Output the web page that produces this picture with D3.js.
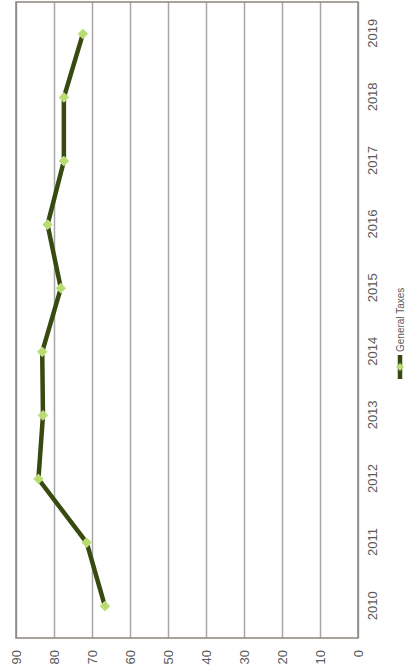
<!DOCTYPE html>
<html>
<head>
<meta charset="utf-8">
<script src="https://cdn.jsdelivr.net/npm/d3@7"></script>
<style>
  body { margin: 0; background: #fff; }
  text { font-family: "Liberation Sans", Arial, sans-serif; }
</style>
</head>
<body>
<script>
// data
const years = ['2010','2011','2012','2013','2014','2015','2016','2017','2018','2019'];
const generalTaxes = [66.6, 71.4, 84.1, 82.9, 83.1, 78.2, 81.7, 77.4, 77.4, 72.4];
const valueTicks = [0, 10, 20, 30, 40, 50, 60, 70, 80, 90];
const seriesName = 'General Taxes';

const W = 413, H = 669;
const svg = d3.select('body').append('svg').attr('width', W).attr('height', H);

// chart is drawn as a normal line chart, then turned on its side
const g = svg.append('g').attr('transform', `translate(0,${H}) rotate(-90)`);

const plot = { left: 31, right: 667, top: 16, bottom: 358 };

const x = d3.scalePoint()
  .domain(years)
  .range([plot.left, plot.right])
  .padding(0.5);

const y = d3.scaleLinear()
  .domain([0, 90])
  .range([plot.bottom, plot.top]);

// grid + value labels
const yAxis = g.append('g')
  .attr('transform', `translate(${plot.left},0)`)
  .call(d3.axisLeft(y).tickValues(valueTicks).tickSize(-(plot.right - plot.left)).tickPadding(12));
yAxis.select('.domain').remove();
yAxis.selectAll('.tick line').attr('stroke', '#a6a6a6').attr('stroke-width', 1.5);
yAxis.selectAll('.tick text').attr('fill', '#595959').style('font-size', '13px');

// plot border
g.append('rect')
  .attr('x', plot.left).attr('y', plot.top)
  .attr('width', plot.right - plot.left).attr('height', plot.bottom - plot.top)
  .attr('fill', 'none').attr('stroke', '#8c857e').attr('stroke-width', 1.5);

// year labels
const xAxis = g.append('g')
  .attr('transform', `translate(0,${plot.bottom})`)
  .call(d3.axisBottom(x).tickSize(0).tickPadding(10));
xAxis.select('.domain').remove();
xAxis.selectAll('.tick text').attr('fill', '#595959').style('font-size', '13px');

const pts = years.map((yr, i) => ({ yr, v: generalTaxes[i] }));

const line = d3.line().x(d => x(d.yr)).y(d => y(d.v));

g.append('path')
  .datum(pts)
  .attr('d', line)
  .attr('fill', 'none')
  .attr('stroke', '#384a10')
  .attr('stroke-width', 4.5)
  .attr('stroke-linejoin', 'round');

const diamond = d3.symbol().type(d3.symbolDiamond2).size(60);

g.selectAll('.pt')
  .data(pts)
  .join('path')
  .attr('class', 'pt')
  .attr('d', diamond)
  .attr('transform', d => `translate(${x(d.yr)},${y(d.v)})`)
  .attr('fill', '#b8dc72')
  .attr('stroke', '#c6e48a')
  .attr('stroke-width', 1);

// legend
const lg = g.append('g').attr('transform', 'translate(290,400)');
lg.append('line')
  .attr('x1', 0).attr('x2', 24).attr('y1', 0).attr('y2', 0)
  .attr('stroke', '#384a10').attr('stroke-width', 4.5);
lg.append('path')
  .attr('d', d3.symbol().type(d3.symbolDiamond2).size(40))
  .attr('transform', 'translate(12,0)')
  .attr('fill', '#b8dc72');
lg.append('text')
  .attr('x', 27).attr('y', 0)
  .attr('dy', '0.35em')
  .attr('fill', '#595959')
  .style('font-size', '10px')
  .text(seriesName);
</script>
</body>
</html>
